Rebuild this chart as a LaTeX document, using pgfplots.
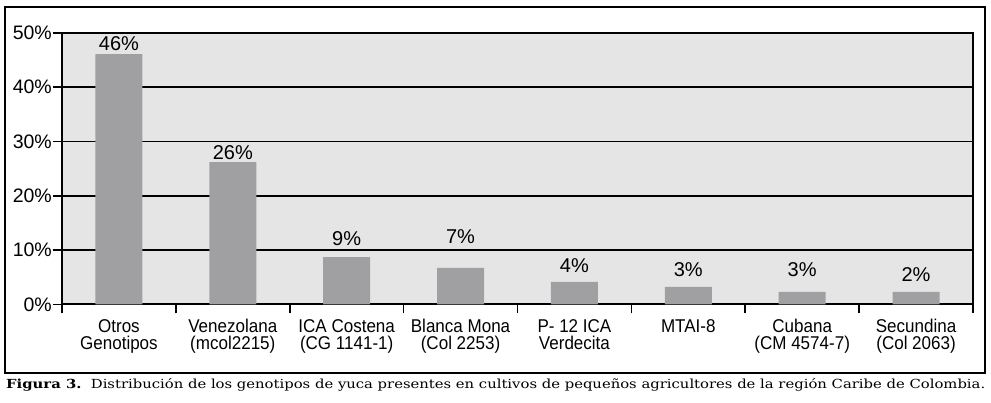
\documentclass[border=0pt]{standalone}
\usepackage{fontspec}
\setmainfont{Liberation Sans}
\newfontfamily\narrowsans[FakeStretch=0.92]{Liberation Sans}
\newfontfamily\capserif{DejaVu Serif}
\usepackage{graphicx}
\usepackage{pgfplots}
\pgfplotsset{compat=1.18}

\definecolor{plotbg}{HTML}{E5E5E5}
\definecolor{bargray}{HTML}{A0A0A3}

\begin{document}
\begin{tikzpicture}[x=1bp,y=1bp]
\begin{axis}[
    name=ax,
    scale only axis,
    width=911bp, height=271.3bp,
    xmin=-0.5, xmax=7.5,
    ymin=0, ymax=50,
    clip=false,
    axis line style={line width=1.8bp},
    axis background/.style={fill=plotbg},
    ytick={0,10,20,30,40,50},
    yticklabels={0\%,10\%,20\%,30\%,40\%,50\%},
    ymajorgrids=true,
    grid style={black, line width=1.6bp},
    tick align=outside,
    ytick pos=left, xtick pos=bottom,
    major tick length=9bp,
    tick style={black, line width=1.6bp},
    yticklabel style={font=\fontsize{19.5bp}{19.5bp}\selectfont, inner sep=1bp},
    xtick={-0.5,0.5,...,7.5},
    xticklabels={},
    extra x ticks={0,1,2,3,4,5,6,7},
    extra x tick labels={Otros\\Genotipos, Venezolana\\(mcol2215), ICA Costena\\(CG 1141-1), Blanca Mona\\(Col 2253), P- 12 ICA\\Verdecita, MTAI-8, Cubana\\(CM 4574-7), Secundina\\(Col 2063)},
    extra x tick style={major tick length=0pt, xticklabel style={align=center, inner sep=0pt, yshift=-15bp, font=\narrowsans\fontsize{18.5bp}{17bp}\selectfont}},
]
\addplot[ybar, bar width=47bp, fill=bargray, draw=none] coordinates {
    (0,46.1) (1,26.2) (2,8.7) (3,6.7) (4,4.15) (5,3.2) (6,2.3) (7,2.3)
};
\addplot[draw=none, mark=none, nodes near coords, point meta=explicit symbolic,
    nodes near coords style={anchor=south, inner sep=0pt, black, font=\fontsize{20bp}{20bp}\selectfont}] coordinates {
    (0,46.7) [46\%]
    (1,26.6) [26\%]
    (2,10.7) [9\%]
    (3,11.1) [7\%]
    (4,5.8) [4\%]
    (5,5.1) [3\%]
    (6,5.1) [3\%]
    (7,4.1) [2\%]
};
\end{axis}
% frame and caption, placed relative to the lower left corner of the plot area
\draw[line width=2bp] ([shift={(-57,-69)}]ax.south west) rectangle ([shift={(923,297.8)}]ax.south west);
\node[anchor=base west, inner sep=0pt] at ([shift={(-56,-84)}]ax.south west)
    {\resizebox{979bp}{10bp}{\capserif\textbf{Figura 3.}\ \ Distribución de los genotipos de yuca presentes en cultivos de pequeños agricultores de la región Caribe de Colombia.}};
\pgfresetboundingbox
\path[use as bounding box] ([shift={(-62,-97.7)}]ax.south west) rectangle ([shift={(929,304.3)}]ax.south west);
\end{tikzpicture}
\end{document}
